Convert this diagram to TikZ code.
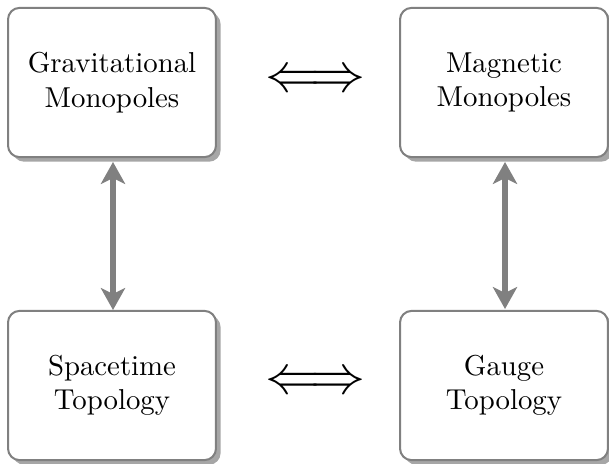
\documentclass[tikz,border=0pt]{standalone}
\usepackage{graphicx}
\usetikzlibrary{arrows.meta,shadows}
\definecolor{boxborder}{RGB}{128,128,128}
\definecolor{arrowgray}{RGB}{128,128,128}
\begin{document}
\begin{tikzpicture}[x=0.3472pt,y=-0.3472pt,
  conceptbox/.style={draw=boxborder, line width=0.7pt, rounded corners=4pt, fill=white,
    minimum width=72.2pt, minimum height=51.8pt, align=center, inner sep=0pt,
    drop shadow={shadow xshift=1.6pt, shadow yshift=-1.6pt, fill=black!35, opacity=1}},
  linkarrow/.style={draw=arrowgray, line width=1.8pt,
    {Stealth[length=7.6pt,width=8.4pt,inset=2pt]}-{Stealth[length=7.6pt,width=8.4pt,inset=2pt]}},
  equiv/.style={inner sep=0pt}]
\useasboundingbox (0,0) rectangle (609,463);
\node[conceptbox] (gm) at (112,82.5) {Gravitational\\Monopoles};
\node[conceptbox] (mm) at (504,82.5) {Magnetic\\Monopoles};
\node[conceptbox] (st) at (112,385.5) {Spacetime\\Topology};
\node[conceptbox] (gt) at (504,385.5) {Gauge\\Topology};
\node[equiv] (e1) at (315.5,81) {\resizebox{35pt}{!}{$\Longleftrightarrow$}};
\node[equiv] (e2) at (315.5,383) {\resizebox{35pt}{!}{$\Longleftrightarrow$}};
\coordinate (a1) at (113,162);
\coordinate (a2) at (113,310);
\coordinate (b1) at (505,162);
\coordinate (b2) at (505,309);
\draw[linkarrow] (a1) -- (a2);
\draw[linkarrow] (b1) -- (b2);
\end{tikzpicture}
\end{document}
